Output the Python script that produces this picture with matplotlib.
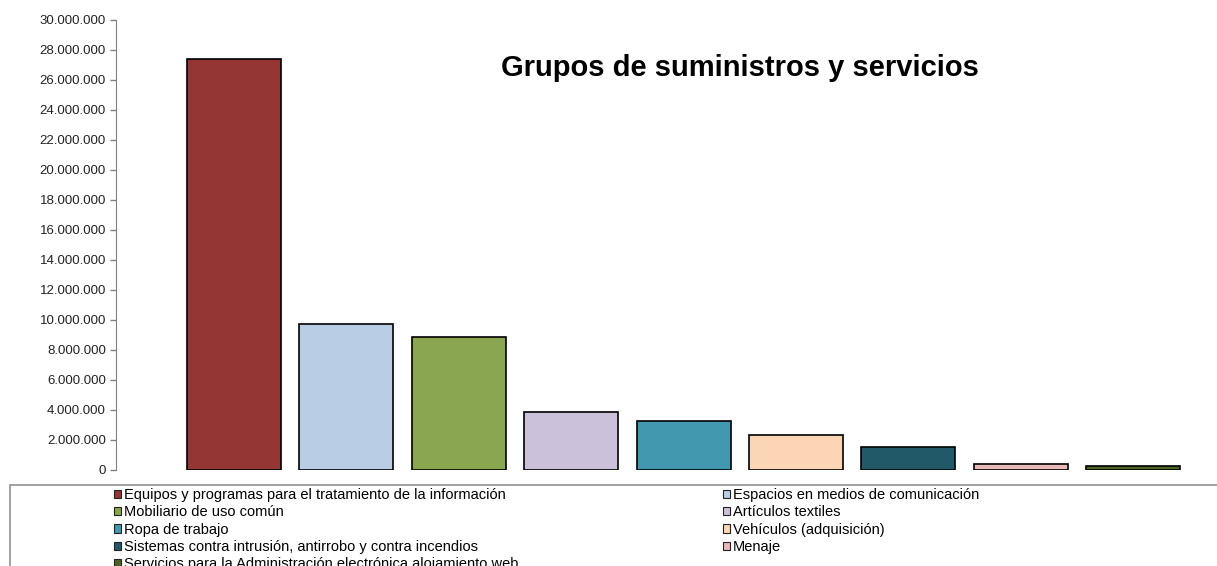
import matplotlib
matplotlib.use('Agg')
import matplotlib.pyplot as plt
from matplotlib.patches import Rectangle, Patch
from matplotlib.ticker import FuncFormatter, MultipleLocator

plt.rcParams['font.family'] = ['Liberation Sans', 'DejaVu Sans']

# data
categories = [
    'Equipos y programas para el tratamiento de la información',
    'Espacios en medios de comunicación',
    'Mobiliario de uso común',
    'Artículos textiles',
    'Ropa de trabajo',
    'Vehículos (adquisición)',
    'Sistemas contra intrusión, antirrobo y contra incendios',
    'Menaje',
    'Servicios para la Administración electrónica alojamiento web',
]
values = [27400000, 9750000, 8870000, 3850000, 3300000, 2320000, 1550000, 400000, 280000]
colors = ['#943634', '#B9CDE5', '#8BA650', '#CCC1DA', '#4198AF',
          '#FCD5B5', '#215968', '#E6B9B8', '#4F6228']

W, H = 1217, 566
fig = plt.figure(figsize=(W / 100, H / 100), dpi=100)
ax = fig.add_axes([115.7 / W, 96 / H, (1190 - 115.7) / W, 450 / H])

xs = list(range(len(values)))
bars = ax.bar(xs, values, width=0.836, color=colors, edgecolor='black', linewidth=1.2)

ax.set_xlim(-1.052, 8.505)
ax.set_ylim(0, 30000000)
ax.yaxis.set_major_locator(MultipleLocator(2000000))
ax.yaxis.set_major_formatter(FuncFormatter(lambda v, p: f'{int(v):,}'.replace(',', '.')))
ax.tick_params(axis='y', direction='out', length=4, width=1, color='#808080',
               labelsize=9.5, labelcolor='#222222', pad=3)
ax.set_xticks([])
for s in ['top', 'right', 'bottom']:
    ax.spines[s].set_visible(False)
ax.spines['left'].set_color('#808080')

fig.text(740 / W, (H - 68) / H, 'Grupos de suministros y servicios',
         ha='center', va='center', fontsize=21, fontweight='bold')

# legend frame, cut off by the figure edge like the reference
fig.add_artist(Rectangle((10 / W, -0.2), 1.2, (H - 485) / H + 0.2,
                         transform=fig.transFigure, fill=False,
                         edgecolor='#909090', linewidth=1.2))

handles = [Patch(facecolor=c, edgecolor='#222222', linewidth=0.8) for c in colors]
order = [0, 2, 4, 6, 8, 1, 3, 5, 7]
leg = fig.legend([handles[i] for i in order], [categories[i] for i in order],
                 loc='upper left', ncol=2, mode='expand',
                 bbox_to_anchor=(114 / W, (H - 488) / H, (979 - 114) / W, 0),
                 bbox_transform=fig.transFigure, frameon=False, fontsize=10.5,
                 borderpad=0, borderaxespad=0, handlelength=0.5, handleheight=0.5,
                 handletextpad=0.2, labelspacing=0.23)

fig.savefig('out.png', dpi=100)
